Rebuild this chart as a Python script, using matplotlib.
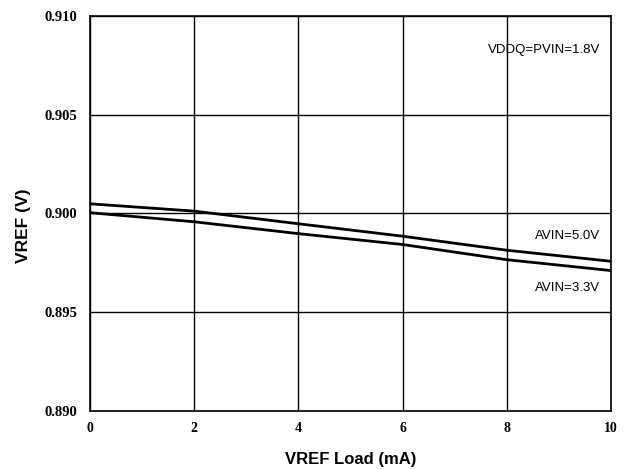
import matplotlib
matplotlib.use("Agg")
import matplotlib.pyplot as plt

# VREF load (mA)
load_ma = [0, 2, 4, 6, 8, 10]
# VREF (V)
vref_avin50 = [0.90049, 0.90012, 0.89948, 0.89885, 0.89814, 0.89758]
vref_avin33 = [0.90004, 0.89958, 0.89898, 0.89843, 0.89766, 0.89711]

x_ticks = [0, 2, 4, 6, 8, 10]
y_ticks = [0.890, 0.895, 0.900, 0.905, 0.910]

fig = plt.figure(figsize=(6.24, 4.69), dpi=100)
ax = fig.add_axes([0.1442, 0.1237, 0.8349, 0.8422])

ax.plot(load_ma, vref_avin50, color="black", lw=2)
ax.plot(load_ma, vref_avin33, color="black", lw=2)

ax.set_xlim(0, 10)
ax.set_ylim(0.890, 0.910)
ax.set_xticks(x_ticks)
ax.set_yticks(y_ticks)
ax.set_xticklabels([str(t) for t in x_ticks], fontfamily="Liberation Serif",
                   fontweight="bold", fontsize=10)
ax.set_yticklabels(["%.3f" % t for t in y_ticks], fontfamily="Liberation Serif",
                   fontweight="bold", fontsize=10.5)
ax.tick_params(axis="y", length=0, pad=9)
ax.tick_params(axis="x", length=0, pad=8)
ax.grid(True, color="black", lw=1)
for s in ax.spines.values():
    s.set_linewidth(1.2)

ax.set_xlabel("VREF Load (mA)", fontfamily="Liberation Sans", fontweight="bold",
              fontsize=12, labelpad=12)
ax.set_ylabel("VREF (V)", fontfamily="Liberation Sans", fontweight="bold",
              fontsize=12.5, labelpad=12)
ax.yaxis.set_label_coords(-0.114, 0.47)

ax.text(9.79, 0.9083, "VDDQ=PVIN=1.8V", ha="right", va="center",
        fontfamily="Liberation Sans", fontsize=9.5)
ax.text(9.79, 0.89886, "AVIN=5.0V", ha="right", va="center",
        fontfamily="Liberation Sans", fontsize=9.5)
ax.text(9.79, 0.89624, "AVIN=3.3V", ha="right", va="center",
        fontfamily="Liberation Sans", fontsize=9.5)

fig.savefig("out.png", dpi=100, facecolor="white")
